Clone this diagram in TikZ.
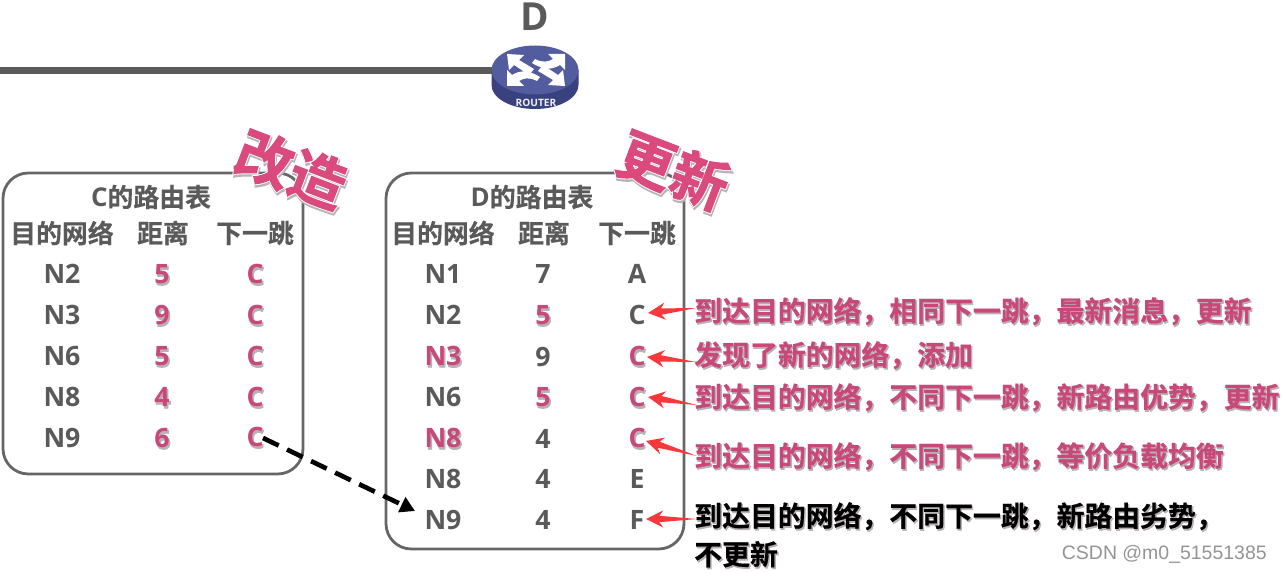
\documentclass[tikz,border=0pt]{standalone}
\usepackage{fontspec}
\usetikzlibrary{arrows.meta,calc}
\setmainfont{Open Sans}[BoldFont={Open Sans Bold}]
\newfontfamily\cjk{Noto Sans CJK SC Bold}[FakeBold=0.5]
\newfontfamily\cjkfat{Noto Sans CJK SC Bold}[FakeBold=2.8]
\newfontfamily\cjkhuge{Noto Sans CJK SC Bold}[FakeBold=1.7]
\newfontfamily\cjkhalo{Noto Sans CJK SC Bold}[FakeBold=5]
\newfontfamily\latinb{Open Sans Bold}
\newfontfamily\latinfat{Open Sans Bold}[FakeBold=2.8]
\definecolor{ink}{HTML}{5A5A5A}
\definecolor{rose}{HTML}{C9487A}
\definecolor{hot}{HTML}{DA4A7C}
\definecolor{shade}{HTML}{B9B2B5}
\definecolor{frame}{HTML}{666666}
\definecolor{redarrow}{HTML}{F8383A}
\definecolor{rtop}{HTML}{525C9E}
\definecolor{rside}{HTML}{39427E}
% text with a soft drop shadow, in one node
\newcommand{\shcjk}[2]{\leavevmode\rlap{\raisebox{-1.2pt}{\kern0.9pt\color{shade}\cjkfat #2}}{\color{#1}\cjk #2}}
\newcommand{\shlat}[2]{\leavevmode\rlap{\raisebox{-1.2pt}{\kern0.9pt\color{shade}\latinfat #2}}{\color{#1}\latinb #2}}
\newcommand{\bigstamp}[1]{\leavevmode\rlap{\raisebox{-1.4pt}{\kern1.2pt\color{shade}\cjkhalo #1}}\rlap{\color{white}\cjkhalo #1}{\color{hot}\cjkhuge #1}}
\tikzset{
  tbox/.style={draw=frame,line width=2.1pt,rounded corners=19pt},
  title/.style={font=\cjk\fontsize{19.4}{20}\selectfont,text=ink,inner sep=0pt},
  cell/.style={font=\latinb\fontsize{20}{20}\selectfont,text=ink,inner sep=0pt},
  pcell/.style={font=\fontsize{20}{20}\selectfont,inner sep=0pt},
  note/.style={font=\fontsize{20.9}{24}\selectfont,inner sep=0pt,anchor=west},
  stamp/.style={font=\fontsize{42.5}{44}\selectfont,inner sep=0pt},
  redtip/.style={fill=redarrow,draw=none},
  rarrow/.style={fill=white,draw=none},
}
\begin{document}
\begin{tikzpicture}[x=0.75pt,y=-0.75pt]
\useasboundingbox (0,0) rectangle (1282,573);
% link and router
\coordinate (linkstart) at (0,70.5);
\coordinate (routerwest) at (492,70.5);
\draw[ink,line width=5pt] (linkstart) -- (routerwest);
\node[font=\latinb\fontsize{29}{30}\selectfont,text=ink,inner sep=0pt] (dlabel) at (535,17) {D};
\fill[rside] (491.5,70) -- (491.5,85) arc[start angle=180,end angle=0,x radius=43.5,y radius=24] -- (578.5,70) -- cycle;
\fill[rtop] (535,70) ellipse[x radius=43.5,y radius=24.5];
\fill[rarrow] (507,54) -- (524,55) -- (519,60) -- (534,69) -- (529,75) -- (514,65) -- (509,70) -- cycle;
\fill[rarrow] (565,54) -- (565,70) -- (560,65) .. controls (550,71) and (542,69) .. (532,63) -- (535,59) .. controls (543,63) and (548,62) .. (553,59) -- (548,54) -- cycle;
\fill[rarrow] (507,86) -- (507,70) -- (512,75) .. controls (522,69) and (530,71) .. (540,77) -- (537,81) .. controls (529,77) and (524,78) .. (519,81) -- (524,86) -- cycle;
\fill[rarrow] (565,86) -- (548,85) -- (553,80) -- (538,71) -- (543,65) -- (558,75) -- (563,70) -- cycle;
\node[font=\latinb\fontsize{7.6}{8}\selectfont,text=white!90!rtop,inner sep=0pt] (rname) at (536,102.5) {ROUTER};
% boxes
\draw[tbox] (3,173) rectangle (303,474);
\draw[tbox] (386,173) rectangle (684,549);
% C table
\node[title] (ct) at (151,197) {\latinb C\cjk 的路由表};
\node[title] (ch1) at (62,233) {目的网络};
\node[title] (ch2) at (163,233) {距离};
\node[title] (ch3) at (255,233) {下一跳};
\node[cell] (c1) at (62,274) {N2};
\node[cell] (c2) at (62,315) {N3};
\node[cell] (c3) at (62,356) {N6};
\node[cell] (c4) at (62,397) {N8};
\node[cell] (c5) at (62,438) {N9};
\node[pcell] (d1) at (162,275) {\shlat{rose}{5}};
\node[pcell] (d2) at (162,316) {\shlat{rose}{9}};
\node[pcell] (d3) at (162,357) {\shlat{rose}{5}};
\node[pcell] (d4) at (162,398) {\shlat{rose}{4}};
\node[pcell] (d5) at (162,439) {\shlat{rose}{6}};
\node[pcell] (n1) at (255,275) {\shlat{rose}{C}};
\node[pcell] (n2) at (255,316) {\shlat{rose}{C}};
\node[pcell] (n3) at (255,357) {\shlat{rose}{C}};
\node[pcell] (n4) at (255,398) {\shlat{rose}{C}};
\node[pcell] (n5) at (255,438) {\shlat{rose}{C}};
% D table
\node[title] (dt) at (532,197) {\latinb D\cjk 的路由表};
\node[title] (dh1) at (443,233) {目的网络};
\node[title] (dh2) at (544,233) {距离};
\node[title] (dh3) at (637,233) {下一跳};
\node[cell] (e1) at (443,274) {N1};
\node[cell] (e2) at (443,315) {N2};
\node[pcell] (e3) at (443,357) {\shlat{rose}{N3}};
\node[cell] (e4) at (443,397) {N6};
\node[pcell] (e5) at (443,439) {\shlat{rose}{N8}};
\node[cell] (e6) at (443,479) {N8};
\node[cell] (e7) at (443,520) {N9};
\node[cell] (f1) at (543,274) {7};
\node[pcell] (f2) at (543,316) {\shlat{rose}{5}};
\node[cell] (f3) at (543,357) {9};
\node[pcell] (f4) at (543,398) {\shlat{rose}{5}};
\node[cell] (f5) at (543,439) {4};
\node[cell] (f6) at (543,479) {4};
\node[cell] (f7) at (543,520) {4};
\node[cell] (g1) at (637,274) {A};
\node[cell] (g2) at (637,315) {C};
\node[pcell] (g3) at (637,357) {\shlat{rose}{C}};
\node[pcell] (g4) at (637,398) {\shlat{rose}{C}};
\node[pcell] (g5) at (637,439) {\shlat{rose}{C}};
\node[cell] (g6) at (637,479) {E};
\node[cell] (g7) at (637,520) {F};
% stamps
\node[stamp,rotate=-21] (s1) at (291,170) {\bigstamp{改造}};
\node[stamp,rotate=-21] (s2) at (673,171) {\bigstamp{更新}};
% dashed connector
\coordinate (dashstart) at (263,438);
\coordinate (dashend) at (415,511);
\draw[black,line width=3.5pt,dash pattern=on 13pt off 7pt,-{Triangle[length=11pt,width=12pt]}] (dashstart) -- (dashend);
% notes
\node[note] (t1) at (694,312) {\shcjk{rose}{到达目的网络，相同下一跳，最新消息，更新}};
\node[note] (t2) at (694,356) {\shcjk{rose}{发现了新的网络，添加}};
\node[note] (t3) at (694,398) {\shcjk{rose}{到达目的网络，不同下一跳，新路由优势，更新}};
\node[note] (t4) at (694,457) {\shcjk{rose}{到达目的网络，不同下一跳，等价负载均衡}};
\node[note] (t5) at (694,517) {\shcjk{black}{到达目的网络，不同下一跳，新路由劣势，}};
\node[note] (t6) at (694,555) {\shcjk{black}{不更新}};
% red arrows
\coordinate (a1) at (648,313); \coordinate (b1) at (696,308);
\coordinate (a2) at (647,357); \coordinate (b2) at (696,362);
\coordinate (a3) at (648,397); \coordinate (b3) at (697,405);
\coordinate (a4) at (646,441); \coordinate (b4) at (697,456);
\coordinate (a5) at (646,519); \coordinate (b5) at (697,519);
\foreach \p/\q in {a1/b1,a2/b2,a3/b3,a4/b4,a5/b5}{
  \fill[redtip] (\p) -- ($(\p)!13pt!(\q)!6.5pt!90:(\q)$) -- ($(\p)!10pt!(\q)!2.4pt!90:(\q)$) -- (\q) -- ($(\p)!10pt!(\q)!2.4pt!-90:(\q)$) -- ($(\p)!13pt!(\q)!6.5pt!-90:(\q)$) -- cycle;
}
% watermark
\node[font=\fontsize{14.6}{16}\selectfont,text=black!42,inner sep=0pt,anchor=east] (wm) at (1267,554) {\fontspec{Liberation Sans}CSDN @m0\_51551385};
\end{tikzpicture}
\end{document}
